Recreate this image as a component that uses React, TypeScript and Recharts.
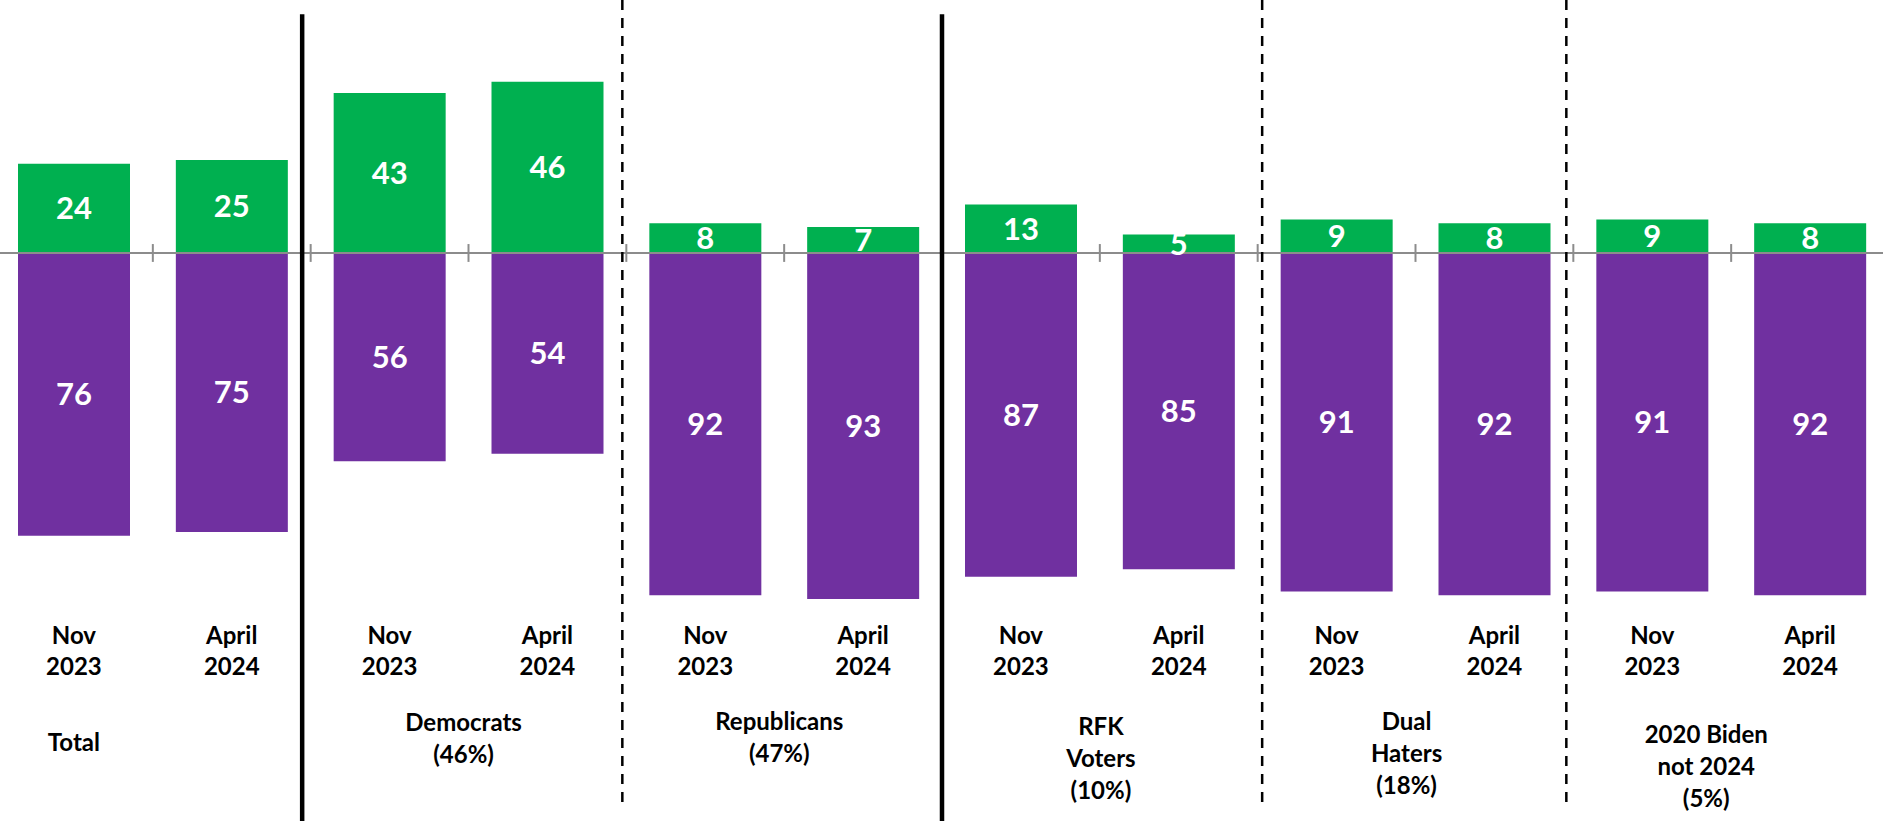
import React from 'react';
import { BarChart, Bar, XAxis, YAxis, ReferenceLine, LabelList } from 'recharts';

// survey groups and waves
const groups = ['Total', 'Democrats', 'Republicans', 'RFK Voters', 'Dual Haters', '2020 Biden not 2024'];
const groupLines = [
  ['Total'],
  ['Democrats', '(46%)'],
  ['Republicans', '(47%)'],
  ['RFK', 'Voters', '(10%)'],
  ['Dual', 'Haters', '(18%)'],
  ['2020 Biden', 'not 2024', '(5%)'],
];
const waves = ['Nov 2023', 'April 2024'];
const waveLines = [['Nov', '2023'], ['April', '2024']];

// favorable (green, up) / unfavorable (purple, down)
const favorable = [24, 25, 43, 46, 8, 7, 13, 5, 9, 8, 9, 8];
const unfavorable = [76, 75, 56, 54, 92, 93, 87, 85, 91, 92, 91, 92];

const data = favorable.map((f, i) => ({
  key: `${groups[Math.floor(i / 2)]}|${waves[i % 2]}`,
  fav: f,
  unfav: -unfavorable[i],
}));
const keys = data.map((d) => d.key);

const W = 1894;
const H = 821;
const BAND = W / keys.length;
const FONT = 'Lato, "Open Sans", sans-serif';

// group label placement (relative to first bar of group)
const groupLabelLayout = [
  { dx: 0, y: 751 },
  { dx: 74, y: 731 },
  { dx: 74, y: 730 },
  { dx: 80, y: 735 },
  { dx: 70, y: 730 },
  { dx: 54, y: 743 },
];

// separators before a group
const separators = [
  { group: 1, solid: true, dx: -8.5 },
  { group: 2, solid: false, dx: -4 },
  { group: 3, solid: true, dx: 0 },
  { group: 4, solid: false, dx: 4.5 },
  { group: 5, solid: false, dx: -7 },
];

const AxisTick = (props: any) => {
  const { x, y, index } = props;
  const lines = waveLines[index % 2];
  const g = Math.floor(index / 2);
  const gl = groupLayout(g);
  return (
    <g fontFamily={FONT} fontWeight={700} fontSize={24} fill="#000">
      <text textAnchor="middle">
        {lines.map((l, i) => (
          <tspan key={i} x={x} y={y + 19 + i * 31}>{l}</tspan>
        ))}
      </text>
      {index % 2 === 0 && (
        <text textAnchor="middle">
          {groupLines[g].map((l, i) => (
            <tspan key={i} x={x + gl.dx} y={gl.y + i * 32}>{l}</tspan>
          ))}
        </text>
      )}
    </g>
  );
};

function groupLayout(g: number) {
  return groupLabelLayout[g];
}

const valueLabel = (v: any) => Math.abs(Number(v));

export default function App() {
  return (
    <div style={{ position: 'absolute', left: -5, top: 0, width: W, height: H }}>
      <BarChart
        width={W}
        height={H}
        data={data}
        stackOffset="sign"
        margin={{ top: 0, right: 0, bottom: 0, left: 0 }}
      >
        <XAxis
          dataKey="key"
          height={H - 625}
          axisLine={false}
          tickLine={false}
          tickSize={0}
          tickMargin={0}
          interval={0}
          tick={<AxisTick />}
        />
        <YAxis hide domain={[-100, 68]} allowDataOverflow />
        <ReferenceLine y={0} stroke="#8c8c8c" strokeWidth={2} />
        {keys.slice(1).map((k) => (
          <ReferenceLine
            key={`t-${k}`}
            segment={[{ x: k, y: 2.4 }, { x: k, y: -2.4 }]}
            position="start"
            ifOverflow="visible"
            stroke="#8c8c8c"
            strokeWidth={2}
          />
        ))}
        <Bar dataKey="fav" stackId="s" fill="#00B050" barSize={112} isAnimationActive={false}>
          <LabelList
            dataKey="fav"
            position="center"
            formatter={valueLabel}
            fill="#fff"
            fontSize={31}
            fontWeight={700}
            fontFamily={FONT}
          />
        </Bar>
        <Bar dataKey="unfav" stackId="s" fill="#7030A0" barSize={112} isAnimationActive={false}>
          <LabelList
            dataKey="unfav"
            position="center"
            formatter={valueLabel}
            fill="#fff"
            fontSize={31}
            fontWeight={700}
            fontFamily={FONT}
          />
        </Bar>
        {separators.map((s) => {
          const k = keys[s.group * 2];
          return (
            <ReferenceLine
              key={`s-${k}`}
              segment={s.solid ? [{ x: k, y: 64.2 }, { x: k, y: -156 }] : [{ x: k, y: 68 }, { x: k, y: -149.2 }]}
              position="start"
              ifOverflow="visible"
              shape={(p: any) => (
                <line
                  x1={p.x1 + s.dx}
                  y1={p.y1}
                  x2={p.x2 + s.dx}
                  y2={p.y2}
                  stroke="#000"
                  strokeWidth={s.solid ? 4.5 : 2.5}
                  strokeDasharray={s.solid ? undefined : '10 8'}
                />
              )}
            />
          );
        })}
      </BarChart>
    </div>
  );
}
